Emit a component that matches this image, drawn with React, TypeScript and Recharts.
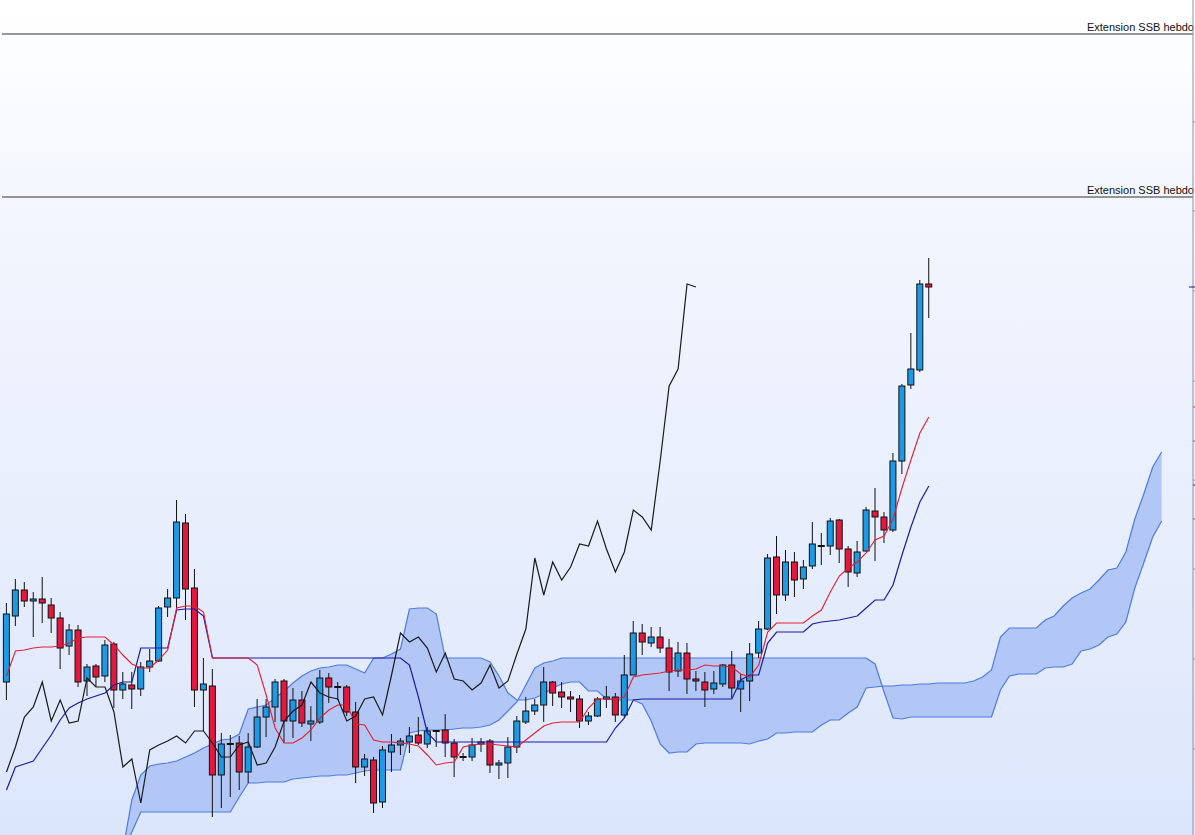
import { ComposedChart, Bar, Line, Area, XAxis, YAxis, ReferenceLine } from 'recharts';

// daily candles (arbitrary price units)
const candleOpen = [
  115.3, 121.9, 124.5, 123.4, 123.6, 123.0, 121.7, 118.9, 120.5, 115.4,
  116.9, 115.9, 119.1, 114.5, 115.0, 114.6, 116.8, 117.4, 122.8, 123.7,
  131.2, 124.7, 114.5, 114.9, 106.0, 109.1, 109.2, 106.3, 108.8, 111.8,
  112.8, 115.4, 111.4, 113.5, 111.1, 111.3, 115.7, 114.8, 114.8, 112.3,
  106.8, 107.5, 103.3, 108.3, 109.0, 109.3, 110.0, 109.1, 110.4, 110.5,
  109.2, 107.8, 107.8, 109.1, 109.4, 107.0, 107.2, 108.8, 111.3, 112.4,
  113.0, 115.3, 114.3, 113.8, 113.6, 111.4, 111.9, 113.6, 113.8, 112.0,
  116.0, 120.2, 119.2, 119.8, 118.7, 116.4, 118.2, 115.6, 115.3, 114.6,
  115.1, 117.0, 114.6, 115.4, 118.2, 120.6, 127.8, 124.0, 127.3, 125.6,
  126.9, 128.9, 128.9, 131.5, 128.6, 126.2, 128.4, 132.4, 131.8, 130.5,
  137.4, 145.0, 146.5, 155.1,
];
const candleHigh = [
  123.2, 125.6, 125.3, 124.3, 125.8, 123.7, 122.3, 121.1, 121.0, 117.1,
  117.1, 119.5, 119.3, 116.3, 116.3, 117.3, 118.6, 122.9, 124.6, 133.5,
  132.1, 126.6, 117.7, 116.6, 110.2, 110.0, 109.9, 110.2, 113.6, 113.6,
  115.6, 115.6, 114.7, 114.4, 112.9, 116.5, 116.2, 115.3, 115.0, 113.3,
  108.1, 107.8, 108.9, 110.1, 109.7, 110.8, 111.8, 110.8, 110.5, 112.1,
  109.6, 108.2, 109.7, 109.7, 109.6, 107.5, 109.8, 111.9, 113.8, 113.6,
  116.8, 115.4, 115.3, 114.4, 114.0, 112.3, 113.8, 114.9, 114.2, 118.0,
  121.4, 121.1, 120.8, 120.8, 119.6, 119.3, 119.2, 116.4, 116.3, 116.4,
  117.1, 118.4, 116.1, 119.2, 121.4, 128.1, 129.9, 128.5, 128.3, 127.5,
  131.3, 130.2, 131.7, 131.6, 128.9, 129.4, 132.8, 134.7, 132.3, 138.2,
  145.1, 150.2, 155.5, 157.7,
];
const candleLow = [
  113.5, 120.9, 122.8, 119.8, 121.2, 120.2, 116.6, 118.0, 114.8, 113.9,
  114.8, 115.3, 112.7, 113.6, 112.6, 113.9, 116.3, 117.3, 121.8, 122.5,
  121.5, 112.8, 110.4, 101.8, 102.7, 103.8, 104.5, 105.2, 108.7, 109.8,
  111.3, 109.2, 109.7, 110.8, 109.4, 111.1, 113.2, 113.5, 111.9, 105.2,
  105.9, 102.2, 102.7, 106.3, 108.0, 108.2, 109.0, 108.7, 108.8, 107.8,
  105.8, 107.4, 107.4, 108.3, 106.2, 105.6, 105.7, 108.2, 111.1, 112.0,
  111.3, 112.9, 112.7, 112.3, 110.7, 111.0, 111.8, 112.7, 111.3, 111.8,
  116.0, 118.0, 118.8, 118.2, 114.4, 115.8, 114.1, 114.4, 112.8, 114.1,
  114.8, 113.7, 112.3, 113.4, 117.7, 120.5, 122.1, 123.4, 123.8, 124.6,
  126.6, 127.0, 128.0, 127.2, 124.8, 125.8, 128.3, 127.4, 129.2, 130.3,
  136.1, 144.6, 146.3, 151.7,
];
const candleClose = [
  122.1, 124.5, 123.4, 123.6, 123.2, 121.7, 118.7, 120.5, 115.3, 116.8,
  115.8, 119.0, 114.5, 115.1, 114.6, 116.8, 117.4, 122.7, 123.7, 131.3,
  124.6, 114.5, 115.1, 106.0, 109.1, 109.1, 106.3, 108.8, 111.8, 112.8,
  115.3, 111.4, 113.5, 111.2, 111.4, 115.7, 114.8, 114.8, 112.3, 106.8,
  107.6, 103.2, 108.5, 109.0, 109.4, 109.9, 109.2, 110.4, 110.4, 109.2,
  107.8, 107.8, 109.0, 109.3, 107.0, 107.2, 108.8, 111.4, 112.4, 113.0,
  115.3, 114.2, 113.8, 113.6, 111.4, 111.9, 113.6, 113.8, 112.0, 116.0,
  120.2, 119.3, 119.8, 118.7, 116.3, 118.2, 115.6, 115.4, 114.5, 115.2,
  117.0, 114.7, 115.4, 118.1, 120.6, 127.7, 124.0, 127.3, 125.5, 126.8,
  129.1, 128.9, 131.4, 128.6, 126.3, 128.3, 132.5, 131.8, 130.5, 137.4,
  144.9, 146.6, 155.1, 154.8,
];

// Ichimoku lines
const tenkan = [
  115.9, 118.4, 118.5, 118.7, 118.8, 118.8, 118.9, 119.2, 119.7, 119.8,
  119.8, 119.8, 119.0, 118.0, 117.1, 116.7, 116.7, 117.5, 118.5, 122.7,
  122.9, 122.9, 122.3, 117.7, 117.7, 117.7, 117.7, 117.7, 117.0, 114.0,
  110.7, 109.2, 109.2, 109.7, 110.5, 111.7, 112.5, 113.0, 113.0, 111.1,
  111.0, 109.5, 109.3, 109.3, 109.2, 109.1, 108.9, 108.0, 107.0, 107.2,
  107.3, 108.8, 109.0, 109.1, 109.1, 109.0, 108.9, 108.8, 109.5, 110.2,
  110.9, 111.2, 111.3, 111.3, 111.3, 112.7, 113.6, 113.6, 113.6, 113.8,
  115.8, 116.0, 116.1, 116.2, 116.4, 116.5, 116.5, 116.6, 117.0, 116.9,
  116.9, 116.8, 116.1, 115.8, 117.0, 120.3, 121.2, 121.2, 121.2, 121.2,
  121.9, 122.5, 124.3, 125.9, 126.7, 127.3, 128.2, 129.5, 129.9, 131.6,
  134.7, 137.5, 140.2, 141.8,
];
const kijun = [
  104.5, 106.8, 107.1, 107.4, 108.7, 110.0, 111.5, 112.7, 113.2, 113.6,
  113.9, 114.2, 115.0, 115.3, 115.3, 118.7, 118.7, 118.7, 118.7, 122.5,
  122.6, 122.6, 121.9, 117.7, 117.7, 117.7, 117.7, 117.7, 117.7, 117.7,
  117.7, 117.7, 117.7, 117.7, 117.7, 117.7, 117.7, 117.7, 117.7, 117.7,
  117.7, 117.7, 117.7, 117.7, 117.7, 117.0, 113.8, 110.2, 109.3, 109.3,
  109.3, 109.3, 109.3, 109.3, 109.3, 109.3, 109.3, 109.3, 109.3, 109.3,
  109.3, 109.3, 109.3, 109.3, 109.3, 109.3, 109.3, 109.3, 110.7, 111.7,
  113.5, 113.6, 113.6, 113.6, 113.6, 113.6, 113.6, 113.6, 113.6, 113.6,
  113.6, 113.6, 115.5, 116.0, 116.0, 119.2, 120.3, 120.3, 120.3, 120.3,
  121.1, 121.3, 121.4, 121.5, 121.7, 121.9, 122.7, 123.5, 123.5, 125.0,
  128.0, 130.8, 133.3, 134.9,
];

// cloud, starting at slot 13 and running 26 slots past the last candle
const CLOUD_START = 13;
const spanA = [
  98.5, 103.5, 106.0, 106.9, 107.1, 107.2, 107.4, 107.8, 108.2, 108.7,
  109.1, 109.5, 109.6, 110.1, 112.6, 112.8, 113.0, 113.7, 114.4, 115.2,
  115.9, 116.4, 116.7, 116.8, 117.0, 117.0, 116.6, 116.2, 117.7, 117.7,
  118.1, 118.6, 122.6, 122.7, 122.7, 122.1, 117.7, 117.7, 117.7, 117.7,
  117.7, 117.3, 115.9, 114.2, 113.5, 113.5, 113.7, 114.1, 114.7, 115.1,
  115.3, 115.3, 114.4, 114.4, 113.6, 113.5, 113.5, 113.5, 113.1, 111.4,
  109.1, 108.2, 108.3, 108.3, 109.1, 109.2, 109.2, 109.2, 109.2, 109.2,
  109.1, 109.4, 109.6, 110.2, 110.2, 110.3, 110.3, 110.3, 111.0, 111.5,
  111.5, 112.2, 112.8, 114.7, 114.8, 114.9, 114.9, 115.0, 115.0, 115.1,
  115.1, 115.2, 115.2, 115.2, 115.2, 115.4, 115.8, 116.5, 119.8, 120.7,
  120.7, 120.7, 120.7, 121.5, 121.9, 122.9, 123.7, 124.2, 124.6, 125.5,
  126.5, 126.7, 128.3, 131.6, 134.1, 136.8, 138.3,
];
const spanB = [
  98.5, 100.3, 102.3, 102.3, 102.3, 102.3, 102.3, 102.3, 102.3, 102.3,
  102.3, 102.3, 102.3, 103.8, 105.2, 105.2, 105.3, 105.3, 105.3, 105.6,
  105.7, 105.8, 105.9, 105.9, 106.0, 106.0, 106.2, 106.4, 106.5, 106.5,
  106.5, 106.5, 110.2, 110.4, 110.5, 110.5, 110.5, 110.6, 110.7, 110.7,
  110.8, 111.0, 111.5, 112.4, 113.3, 115.0, 116.7, 117.2, 117.4, 117.7,
  117.7, 117.7, 117.7, 117.7, 117.7, 117.7, 117.7, 117.7, 117.7, 117.7,
  117.7, 117.7, 117.7, 117.7, 117.7, 117.7, 117.7, 117.7, 117.7, 117.7,
  117.7, 117.7, 117.7, 117.7, 117.7, 117.7, 117.7, 117.7, 117.7, 117.7,
  117.7, 117.7, 117.7, 117.7, 117.1, 114.3, 111.7, 111.6, 111.8, 111.8,
  111.8, 111.8, 111.8, 111.8, 111.8, 111.8, 111.8, 111.8, 114.5, 115.9,
  116.1, 116.1, 116.1, 116.7, 116.8, 116.8, 117.1, 118.4, 118.6, 119.0,
  119.8, 120.1, 121.3, 124.7, 127.2, 129.8, 131.4,
];

const CHIKOU_SHIFT = 26;
const SLOTS = 133;

const extensionLevels = [180.1, 163.8];
const gridTicks = [171.3, 162.4, 154.4, 145.4, 135.5, 126.6, 117.6, 108.6];
const markerLevels = [154.8, 142.8, 139.4, 135.0, 131.6];
const markerColors = ['#1d1d66', '#e0203a', '#3b6fd6', '#1a1aa5', '#3b6fd6'];

const PLOT_RIGHT = 1193;
const UP = '#1d9ae6';
const DOWN = '#e5173f';

const rows = Array.from({ length: SLOTS }, (_, i) => {
  const row: any = { slot: i, cloud: [null, null] };
  if (i < candleClose.length) {
    row.open = candleOpen[i];
    row.high = candleHigh[i];
    row.low = candleLow[i];
    row.close = candleClose[i];
    row.range = [candleLow[i], candleHigh[i]];
    row.tenkan = tenkan[i];
    row.kijun = kijun[i];
  }
  if (i + CHIKOU_SHIFT < candleClose.length) row.chikou = candleClose[i + CHIKOU_SHIFT];
  const c = i - CLOUD_START;
  if (c >= 0 && c < spanA.length) row.cloud = [spanB[c], spanA[c]];
  return row;
});

const Candle = (props: any) => {
  const { x, y, width, height, payload } = props;
  if (!payload || payload.open == null || !isFinite(y) || !isFinite(height)) return <g />;
  const { open, high, low, close } = payload;
  const k = height / (high - low);
  const py = (v: number) => y + (high - v) * k;
  const cx = x + width / 2;
  const top = py(Math.max(open, close));
  const bottom = py(Math.min(open, close));
  return (
    <g>
      <line x1={cx} x2={cx} y1={y} y2={y + height} stroke="#111" strokeWidth={1} />
      {open === close ? (
        <line x1={cx - 3.5} x2={cx + 3.5} y1={top} y2={top} stroke="#111" strokeWidth={2} />
      ) : (
        <rect
          x={cx - 3}
          y={top}
          width={6}
          height={Math.max(bottom - top, 1)}
          fill={close > open ? UP : DOWN}
          stroke="#111"
          strokeWidth={1}
        />
      )}
    </g>
  );
};

const AxisMark = (props: any) => {
  const { y, payload } = props;
  const k = markerLevels.indexOf(payload.value);
  const color = k >= 0 ? markerColors[k] : '#8a93a5';
  const left = k === 0 ? 4 : 0;
  return <line x1={PLOT_RIGHT - left} x2={PLOT_RIGHT + 4} y1={y} y2={y} stroke={color} strokeWidth={1} />;
};

const ExtLabel = (props: any) => {
  const { viewBox } = props;
  if (!viewBox) return null;
  return (
    <text
      x={viewBox.x + viewBox.width + 1}
      y={viewBox.y - 3}
      textAnchor="end"
      fontSize={11}
      fill="#111"
      fontFamily="'Liberation Sans', Arial, sans-serif"
    >
      Extension SSB hebdo
    </text>
  );
};

export default function App() {
  return (
    <div
      style={{
        position: 'absolute',
        left: 0,
        top: 0,
        width: 1195,
        height: 835,
        overflow: 'hidden',
        background: 'linear-gradient(#ffffff 0%, #f3f6fe 25%, #dce6fb 100%)',
      }}
    >
      <ComposedChart width={1195} height={835} data={rows} margin={{ top: 0, right: 0, bottom: 0, left: 2 }}>
        <XAxis dataKey="slot" hide />
        <YAxis
          orientation="right"
          width={2}
          domain={[100, 183.5]}
          allowDataOverflow
          ticks={[...gridTicks, ...markerLevels]}
          interval={0}
          tick={<AxisMark />}
          tickLine={false}
          axisLine={{ stroke: '#8a93a5' }}
        />
        <Area
          dataKey="cloud"
          type="linear"
          stroke="#4d7ce0"
          strokeWidth={1.2}
          fill="#b3c7f7"
          fillOpacity={1}
          dot={false}
          activeDot={false}
          isAnimationActive={false}
        />
        <Bar dataKey="range" shape={<Candle />} isAnimationActive={false} />
        <Line dataKey="kijun" type="linear" stroke="#1b1ba8" strokeWidth={1.2} dot={false} activeDot={false} isAnimationActive={false} />
        <Line dataKey="tenkan" type="linear" stroke="#e41e32" strokeWidth={1.1} dot={false} activeDot={false} isAnimationActive={false} />
        <Line dataKey="chikou" type="linear" stroke="#1a1a1a" strokeWidth={1.2} dot={false} activeDot={false} isAnimationActive={false} />
        {extensionLevels.map((level) => (
          <ReferenceLine key={level} y={level} stroke="#333" strokeWidth={1} label={<ExtLabel />} />
        ))}
      </ComposedChart>
    </div>
  );
}
